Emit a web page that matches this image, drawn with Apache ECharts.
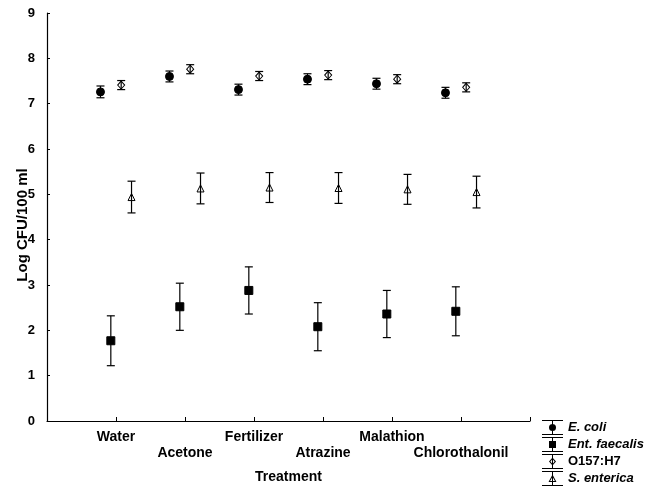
<!DOCTYPE html>
<html>
<head>
<meta charset="utf-8">
<script src="https://cdn.jsdelivr.net/npm/echarts@6/dist/echarts.min.js"></script>
<style>html,body{margin:0;padding:0;background:#fff}#c{width:652px;height:488px}</style>
</head>
<body>
<div id="c"></div>
<script>
const categories = ['Water', 'Acetone', 'Fertilizer', 'Atrazine', 'Malathion', 'Chlorothalonil'];
const seriesNames = ['E. coli', 'Ent. faecalis', 'O157:H7', 'S. enterica'];
const eColiMean = [7.26, 7.60, 7.31, 7.54, 7.44, 7.24];
const eColiErr  = [0.13, 0.12, 0.12, 0.12, 0.12, 0.12];
const entMean   = [1.77, 2.52, 2.88, 2.08, 2.36, 2.42];
const entErr    = [0.55, 0.52, 0.52, 0.53, 0.52, 0.54];
const o157Mean  = [7.41, 7.76, 7.61, 7.63, 7.54, 7.36];
const o157Err   = [0.10, 0.10, 0.10, 0.10, 0.10, 0.10];
const sentMean  = [4.94, 5.13, 5.15, 5.14, 5.11, 5.05];
const sentErr   = [0.35, 0.34, 0.33, 0.34, 0.33, 0.35];
const yTicks = [0, 1, 2, 3, 4, 5, 6, 7, 8, 9];

const FONT = 'Liberation Sans, Arial, Helvetica, sans-serif';
const offsets = [-0.225, -0.075, 0.075, 0.225];
const means = [eColiMean, entMean, o157Mean, sentMean];
const errs = [eColiErr, entErr, o157Err, sentErr];

const symbols = [
  {symbol: 'circle', size: 8, color: '#000', border: '#000'},
  {symbol: 'rect', size: 8, color: '#000', border: '#000'},
  {symbol: 'diamond', size: [7, 8], color: '#fff', border: '#000'},
  {symbol: 'triangle', size: 7, color: '#fff', border: '#000'}
];

// legend icons (caps + stem + marker), drawn in a 21x15 box
const capsStem = 'M0,0 H21 V1 H0 Z M0,14 H21 V15 H0 Z M10,0 H11 V15 H10 Z ';
const legendIcons = [
  'path://' + capsStem + 'M7,7.5 A3.5,3.5 0 1,1 14,7.5 A3.5,3.5 0 1,1 7,7.5 Z',
  'path://' + capsStem + 'M7,4 H14 V11 H7 Z',
  'path://' + capsStem + 'M10.5,3.5 L14,7.5 L10.5,11.5 L7,7.5 Z M10.5,5.1 L8.4,7.5 L10.5,9.9 L12.6,7.5 Z',
  'path://' + capsStem + 'M10.5,3.5 L14.5,11 L6.5,11 Z M10.5,5.8 L8.1,10 L12.9,10 Z'
];

function renderErr(params, api) {
  const x = api.value(0), lo = api.value(1), hi = api.value(2);
  const t = api.coord([x, hi]);
  const b = api.coord([x, lo]);
  const w = 4;
  const st = {stroke: '#000', lineWidth: 1.2};
  return {
    type: 'group',
    children: [
      {type: 'line', shape: {x1: t[0], y1: t[1], x2: b[0], y2: b[1]}, style: st},
      {type: 'line', shape: {x1: t[0] - w, y1: t[1], x2: t[0] + w, y2: t[1]}, style: st},
      {type: 'line', shape: {x1: b[0] - w, y1: b[1], x2: b[0] + w, y2: b[1]}, style: st}
    ]
  };
}

const series = [];
seriesNames.forEach((name, s) => {
  const pts = categories.map((c, i) => [i + 1 + offsets[s], means[s][i]]);
  const bars = categories.map((c, i) => [i + 1 + offsets[s], means[s][i] - errs[s][i], means[s][i] + errs[s][i]]);
  series.push({
    name: name,
    type: 'scatter',
    symbol: symbols[s].symbol,
    symbolSize: symbols[s].size,
    itemStyle: {color: symbols[s].color, borderColor: symbols[s].border, borderWidth: 1, opacity: 1},
    data: pts,
    z: 2,
    silent: true
  });
  series.push({
    name: name + ' err',
    type: 'custom',
    renderItem: renderErr,
    data: bars,
    z: 3,
    silent: true
  });
});

const chart = echarts.init(document.getElementById('c'), null, {renderer: 'canvas'});
chart.setOption({
  animation: false,
  backgroundColor: '#fff',
  grid: {left: 47, right: 122, top: 13, bottom: 67, outerBoundsMode: 'none', containLabel: false},
  xAxis: {
    type: 'value',
    min: 0, max: 7, interval: 1,
    name: 'Treatment',
    nameLocation: 'middle',
    nameGap: 49,
    nameMoveOverlap: false,
    nameTextStyle: {fontFamily: FONT, fontWeight: 'bold', fontSize: 14, color: '#000'},
    axisLine: {show: true, lineStyle: {color: '#000', width: 1.2}},
    axisTick: {show: true, inside: true, length: 4, lineStyle: {color: '#000'}},
    splitLine: {show: false},
    axisLabel: {
      color: '#000', fontFamily: FONT, fontWeight: 'bold', fontSize: 14, lineHeight: 16, margin: 8,
      showMinLabel: true, showMaxLabel: true,
      formatter: function (v) {
        const i = Math.round(v) - 1;
        if (i < 0 || i >= categories.length) return '';
        return (i % 2 === 1 ? '\n' : '') + categories[i];
      }
    }
  },
  yAxis: {
    type: 'value',
    min: yTicks[0], max: yTicks[yTicks.length - 1], interval: 1,
    name: 'Log CFU/100 ml',
    nameLocation: 'middle',
    nameGap: 17,
    nameMoveOverlap: false,
    nameTextStyle: {fontFamily: FONT, fontWeight: 'bold', fontSize: 15, color: '#000', padding: [0, 16, 0, 0]},
    axisLine: {show: true, lineStyle: {color: '#000', width: 1.2}},
    axisTick: {show: true, inside: true, length: 3, lineStyle: {color: '#000'}},
    splitLine: {show: false},
    axisLabel: {color: '#000', fontFamily: FONT, fontWeight: 'bold', fontSize: 13, margin: 12}
  },
  legend: {
    orient: 'vertical',
    left: 542,
    top: 420,
    padding: 0,
    itemWidth: 21,
    itemHeight: 15,
    itemGap: 2,
    selectedMode: false,
    data: seriesNames.map((n, s) => ({name: n, icon: legendIcons[s], itemStyle: {color: '#000', borderWidth: 0}})),
    formatter: function (name) {
      return name === 'O157:H7' ? '{n|' + name + '}' : '{i|' + name + '}';
    },
    textStyle: {
      color: '#000', fontFamily: FONT, fontWeight: 'bold', fontSize: 13,
      rich: {
        i: {fontFamily: FONT, fontWeight: 'bold', fontStyle: 'italic', fontSize: 13, color: '#000'},
        n: {fontFamily: FONT, fontWeight: 'bold', fontSize: 13, color: '#000'}
      }
    }
  },
  series: series
});
</script>
</body>
</html>
